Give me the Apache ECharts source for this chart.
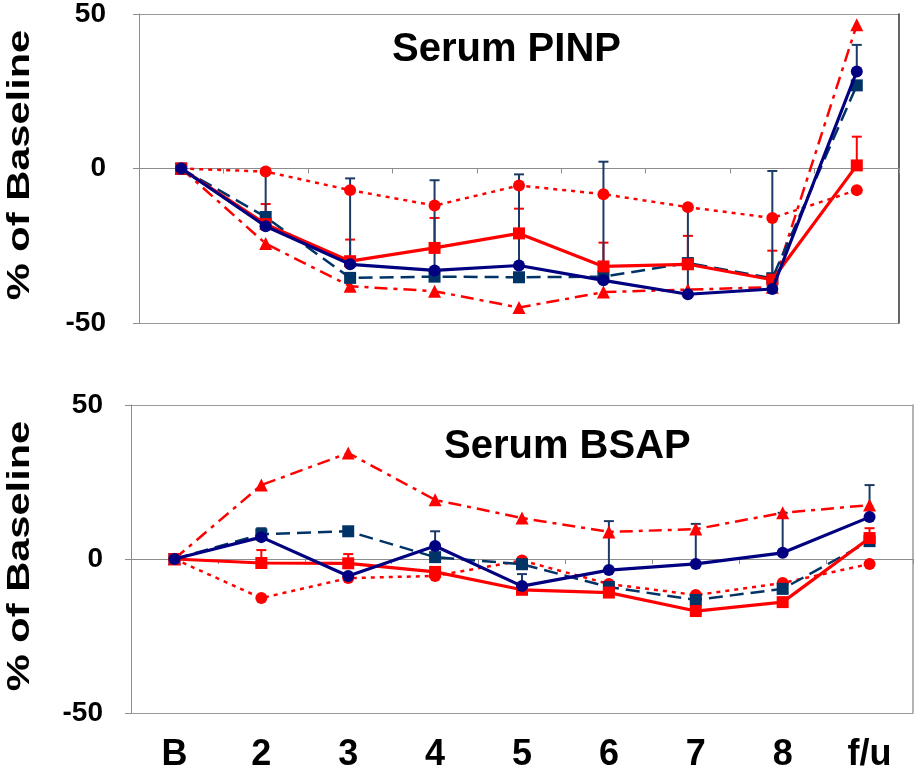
<!DOCTYPE html>
<html><head><meta charset="utf-8">
<script src="https://cdn.jsdelivr.net/npm/echarts@6/dist/echarts.min.js"></script>
<style>html,body{margin:0;padding:0;background:#fff}#c{width:915px;height:773px}</style>
</head><body><div id="c"></div>
<script>
const categories = ['B','2','3','4','5','6','7','8','f/u'];
// Serum PINP (% of baseline)
const pinpRedSquare   = [0,-18,-30,-25.7,-21,-31.7,-31,-36,1];
const pinpRedCircle   = [0,-1,-7,-12,-5.5,-8.3,-12.5,-16,-7];
const pinpRedTriangle = [0,-24.3,-38.1,-39.7,-45,-40,-39.2,-38.4,46.5];
const pinpNavyCircle  = [0,-18.7,-31,-33,-31.4,-36.2,-40.7,-39,31.4];
const pinpNavySquare  = [0,-15.7,-35.4,-35,-35.2,-35,-30.6,-35.5,26.9];
const pinpNavyErrTop  = [null,-1,-3.2,-3.8,-1.9,2.2,-12.3,-0.8,40];
const pinpRedErrTop   = [null,-11.5,-23,-16,-13,-24,-21.8,-26.6,10.3];
// Serum BSAP (% of baseline)
const bsapRedSquare   = [0,-1.3,-1.4,-4.2,-10,-10.9,-16.9,-14,6.8];
const bsapRedCircle   = [0,-12.7,-6.2,-5.5,-0.5,-8.1,-11.7,-7.8,-1.6];
const bsapRedTriangle = [0,24,34.4,19.2,13.3,8.8,9.7,15,17.5];
const bsapNavyCircle  = [0,7.1,-5.5,4.2,-8.8,-3.6,-1.6,2,13.6];
const bsapNavySquare  = [0,8,9,0.6,-1.7,-9.1,-13.3,-9.7,5.8];
const bsapNavyErrTop  = [null,10,null,9,-4.9,12.3,11.4,15,24];
const bsapRedErrTop   = [null,2.9,1.6,null,null,null,null,null,10];

const RED = '#ff0000', NAVY = '#000080', DNAVY = '#003366', ERRNAVY = '#1b3a66';
const FONT = '"Liberation Sans", Arial, sans-serif';

function errData(base, top) {
  const out = [];
  top.forEach((t, i) => { if (t !== null) out.push([i, base[i], t]); });
  return out;
}
function errSeries(base, top, color, gi, z) {
  return {
    type: 'custom', xAxisIndex: gi, yAxisIndex: gi * 2, z: z,
    data: errData(base, top), encode: {x: 0, y: [1, 2]},
    renderItem: function (params, api) {
      const p0 = api.coord([api.value(0), api.value(1)]);
      const p1 = api.coord([api.value(0), api.value(2)]);
      const hw = 5;
      return {type: 'group', children: [
        {type: 'line', shape: {x1: p0[0], y1: p0[1], x2: p1[0], y2: p1[1]}, style: {stroke: color, lineWidth: 2}},
        {type: 'line', shape: {x1: p1[0] - hw, y1: p1[1], x2: p1[0] + hw, y2: p1[1]}, style: {stroke: color, lineWidth: 2}}
      ]};
    }
  };
}
function lineSeries(data, color, dash, symbol, size, width, gi, z) {
  return {
    type: 'line', xAxisIndex: gi, yAxisIndex: gi * 2, z: z, data: data,
    symbol: symbol, symbolSize: size, showAllSymbol: true,
    lineStyle: {color: color, width: width, type: dash},
    itemStyle: {color: color, borderWidth: 0}
  };
}
function panelSeries(gi, rs, rc, rt, nc, ns, nErr, rErr) {
  return [
    errSeries(rs, rErr, RED, gi, 2),
    errSeries(nc, nErr, ERRNAVY, gi, 3),
    lineSeries(rt, RED, [13, 6, 4, 6], 'triangle', 13, 2.5, gi, 4),
    lineSeries(rc, RED, [4, 5], 'circle', 12, 2.5, gi, 5),
    lineSeries(ns, DNAVY, [14, 7], 'rect', 12, 2.5, gi, 6),
    lineSeries(rs, RED, 'solid', 'rect', 12, 3.2, gi, 7),
    lineSeries(nc, NAVY, 'solid', 'circle', 12, 3.2, gi, 8)
  ];
}
function xAx(gi, showLabels) {
  return {
    type: 'category', gridIndex: gi, data: categories, boundaryGap: true,
    axisLine: {show: true, lineStyle: {color: '#8c8c8c', width: 1}},
    axisTick: {show: true, interval: 0, length: 5, lineStyle: {color: '#8c8c8c'}},
    axisLabel: {show: showLabels, interval: 0, margin: 24, fontSize: 36, fontWeight: 'bold', fontFamily: FONT, color: '#000'},
    splitLine: {show: false}
  };
}
function yAx(gi, margin) {
  return {
    type: 'value', gridIndex: gi, min: -50, max: 50, interval: 50,
    axisLine: {show: true, lineStyle: {color: '#8c8c8c', width: 1}},
    axisTick: {show: true, length: 6, lineStyle: {color: '#8c8c8c'}},
    axisLabel: {margin: margin, fontSize: 28, fontWeight: 'bold', fontFamily: FONT, color: '#000'},
    splitLine: {show: true, lineStyle: {color: '#9a9a9a', width: 1}}
  };
}
function yRight(gi, color) {
  return {
    type: 'value', gridIndex: gi, position: 'right', min: -50, max: 50, interval: 50,
    axisLine: {show: true, lineStyle: {color: color, width: 1.5}},
    axisTick: {show: false}, axisLabel: {show: false}, splitLine: {show: false}
  };
}

const chart = echarts.init(document.getElementById('c'), null, {renderer: 'canvas'});
chart.setOption({
  animation: false,
  backgroundColor: '#fff',
  title: [
    {text: 'Serum PINP', left: 392, top: 30, padding: 0, textStyle: {fontSize: 40, fontWeight: 'bold', fontFamily: FONT, color: '#000'}},
    {text: 'Serum BSAP', left: 444, top: 427, padding: 0, textStyle: {fontSize: 40, fontWeight: 'bold', fontFamily: FONT, color: '#000'}}
  ],
  grid: [
    {left: 139, top: 11, width: 760, height: 312},
    {left: 131, top: 405, width: 782, height: 308}
  ],
  xAxis: [xAx(0, false), xAx(1, true)],
  yAxis: [yAx(0, 33), yRight(0, '#333'), yAx(1, 28), yRight(1, '#9a9a9a')],
  graphic: [
    {type: 'text', x: 20, y: 165, rotation: Math.PI / 2, scaleX: 1.3,
     style: {text: '% of Baseline', font: 'bold 32px ' + FONT, align: 'center', verticalAlign: 'middle', fill: '#000'}},
    {type: 'text', x: 20, y: 556, rotation: Math.PI / 2, scaleX: 1.3,
     style: {text: '% of Baseline', font: 'bold 32px ' + FONT, align: 'center', verticalAlign: 'middle', fill: '#000'}}
  ],
  series: [].concat(
    panelSeries(0, pinpRedSquare, pinpRedCircle, pinpRedTriangle, pinpNavyCircle, pinpNavySquare, pinpNavyErrTop, pinpRedErrTop),
    panelSeries(1, bsapRedSquare, bsapRedCircle, bsapRedTriangle, bsapNavyCircle, bsapNavySquare, bsapNavyErrTop, bsapRedErrTop)
  )
});
</script></body></html>
